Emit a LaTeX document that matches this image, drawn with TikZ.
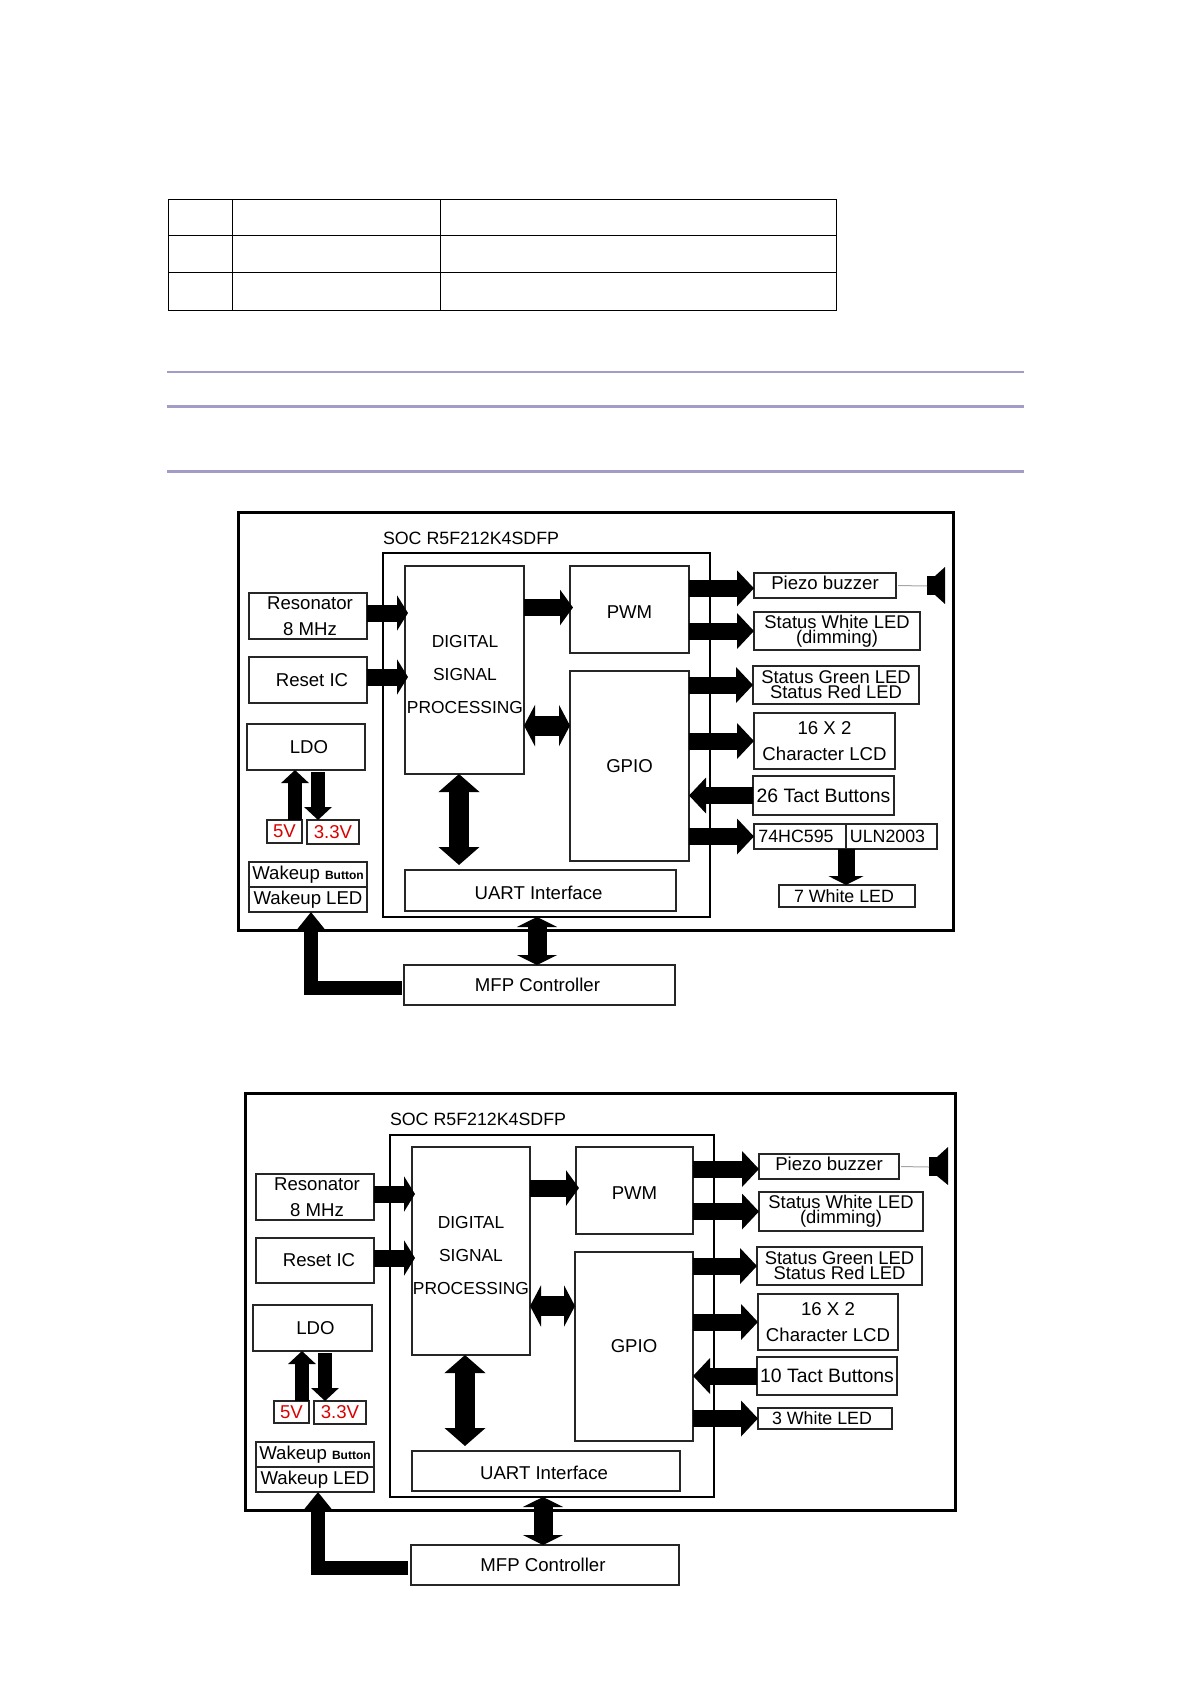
\documentclass[tikz,border=0pt]{standalone}
\usepackage{fontspec}
\setmainfont{Liberation Sans}
\usepackage{tikz}
\usetikzlibrary{arrows.meta, positioning}
\newcommand{\tightfont}{\fontsize{9.2}{7.6}\selectfont\lineskiplimit=-10pt\relax}
\newcommand{\nudged}[2]{\raisebox{#1}[6.7pt][2pt]{#2}}
\definecolor{rulecol}{HTML}{A29CC6}

\begin{document}
\begin{tikzpicture}[
      x=0.5pt, y=-0.5pt,
      font=\fontsize{9.3}{13}\selectfont,
      box/.style={draw=black!85, line width=.7pt, inner sep=0pt, outer sep=0pt, align=center},
      nbox/.style={box, font=\fontsize{8.9}{13}\selectfont},
      tight/.style={box, font=\tightfont},
      frame/.style={draw=black, inner sep=0pt, outer sep=0pt},
      lbl/.style={inner sep=0pt, outer sep=0pt, align=center},
      volt/.style={box, text=red!85!black},
      barr/.style={line width=8.5pt, -{Triangle[length=8.5pt, width=17.5pt]}},
      sarr/.style={line width=8.5pt, -{Triangle[length=5.5pt, width=17.5pt]}},
      parr/.style={line width=8.5pt, -{Triangle[length=6.5pt, width=17.5pt]}},
      larr/.style={line width=8.5pt, -{Triangle[length=4.5pt, width=17.5pt]}},
      harr/.style={line width=10pt, {Triangle[length=5.5pt, width=20.5pt]}-{Triangle[length=5.5pt, width=20.5pt]}},
      varr/.style={line width=10.3pt, {Triangle[length=9pt, width=20pt]}-{Triangle[length=9pt, width=20pt]}},
      marr/.style={line width=9.5pt, {Triangle[length=5pt, width=20pt]}-{Triangle[length=5pt, width=20pt]}},
      pwr/.style={line width=7pt, -{Triangle[length=6.5pt, width=13.5pt]}},
      elb/.style={line width=7.3pt, -{Triangle[length=8.5pt, width=13pt]}},
      wire/.style={draw=black!35, line width=.5pt},
    ]
    \useasboundingbox (0,0) rectangle (1191,1684);

    \draw[line width=.6pt] (168.3,199.3) rectangle (836.7,310.3);
    \foreach \yy in {235.3,272.3} \draw[line width=.6pt] (168.3,\yy) -- (836.7,\yy);
    \foreach \xx in {232.3,440.3} \draw[line width=.6pt] (\xx,199.3) -- (\xx,310.3);
    \draw[rulecol, line width=1pt] (167,372) -- (1024,372);
    \draw[rulecol, line width=1.35pt] (167,406.3) -- (1024,406.3);
    \draw[rulecol, line width=1.35pt] (167,471.3) -- (1024,471.3);

    \node[frame, line width=1.5pt, minimum width=357.5pt, minimum height=209pt] (board) at (595.5,721) {};
    \node[frame, line width=1.1pt, minimum width=163.5pt, minimum height=182pt] (soc) at (546.5,735) {};
    \node[lbl, anchor=west, font=\fontsize{8.9}{13}\selectfont] (soctxt) at (383,538) {SOC R5F212K4SDFP};
    \node[box, minimum width=59.5pt, minimum height=104pt] (dsp) at (464.5,670) {};
    \node[lbl, font=\fontsize{8.7}{16.5}\selectfont] (dsptxt) at (465,675) {DIGITAL\\SIGNAL\\PROCESSING};
    \node[box, minimum width=59.5pt, minimum height=43.5pt] (pwm) at (629.5,609.5) {\nudged{-2pt}{PWM}};
    \node[box, minimum width=59.5pt, minimum height=95pt] (gpio) at (629.5,766) {GPIO};
    \node[box, minimum width=135.5pt, minimum height=20.5pt] (uart) at (540.5,890.5) {\nudged{-2pt}{UART Interface}\hspace*{2pt}};
    \node[box, minimum width=135.5pt, minimum height=20pt] (mfp) at (539.5,985) {\nudged{-1pt}{MFP Controller}\hspace*{2pt}};
    \node[box, minimum width=59pt, minimum height=23pt] (res) at (308,616) {\hspace*{2pt}Resonator\\\hspace*{2pt}8 MHz};
    \node[box, minimum width=59pt, minimum height=23pt] (rst) at (308,680) {\hspace*{4pt}Reset IC};
    \node[box, minimum width=59pt, minimum height=23pt] (ldo) at (306,747) {\hspace*{3pt}LDO};
    \node[volt, minimum width=17.5pt, minimum height=11.5pt] (vfive) at (284.5,831.5) {5V};
    \node[volt, minimum width=26pt, minimum height=12pt] (vthree) at (333,832) {3.3V};
    \node[box, minimum width=59pt, minimum height=12.5pt] (wbtn) at (308,874.5) {Wakeup {\fontsize{6}{7}\selectfont\bfseries Button}};
    \node[box, minimum width=59pt, minimum height=12.5pt] (wled) at (308,899.5) {Wakeup LED};
    \node[box, minimum width=71pt, minimum height=12.5pt] (piezo) at (825,585.5) {\nudged{.6pt}{Piezo buzzer}};
    \node[tight, minimum width=83pt, minimum height=19pt] (white) at (837,631) {Status White LED\\(dimming)};
    \node[tight, minimum width=83pt, minimum height=19pt] (green) at (836,685) {Status Green LED\\Status Red LED};
    \node[box, minimum width=70.5pt, minimum height=28pt] (lcd) at (824.5,741) {16 X 2\\Character LCD};
    \node[box, font=\fontsize{9.7}{13}\selectfont, minimum width=70.5pt, minimum height=19.5pt] (tact) at (823.5,795.5) {26 Tact Buttons};
    \node[nbox, minimum width=46pt, minimum height=12.5pt] (hc) at (800,836.5) {74HC595\hspace*{4pt}};
    \node[nbox, minimum width=45.5pt, minimum height=12.5pt] (uln) at (891.5,836.5) {ULN2003\hspace*{4pt}};
    \node[nbox, minimum width=68pt, minimum height=11pt] (wlt) at (847,896) {7 White LED\hspace*{3pt}};
    \coordinate (spk) at (927,586);
    \fill (spk) ++(0,-10) rectangle ++(9,19);
    \fill (spk) ++(8,-10) -- ++(10,-9) -- ++(0,37) -- ++(-10,-9) -- cycle;

    \draw[sarr, shorten >=-1.5pt] ([yshift=1.5pt]res.east) -- ([yshift=1.5pt]res.east -| dsp.west);
    \draw[sarr, shorten >=-1.5pt] ([yshift=1.5pt]rst.east) -- ([yshift=1.5pt]rst.east -| dsp.west);
    \draw[parr, shorten >=-1.5pt] ([yshift=1pt]dsp.east |- pwm.west) -- ([yshift=1pt]pwm.west);
    \draw[harr] ([yshift=20.2pt]gpio.west) -- ([yshift=20.2pt]gpio.west -| dsp.east);
    \draw[varr, shorten >=2.5pt] ([xshift=-2.75pt]dsp.south) -- ([xshift=-2.75pt]dsp.south |- uart.north);
    \draw[marr] ([xshift=-1.25pt]mfp.north) -- ([xshift=-1.25pt]mfp.north |- soc.south);
    \draw[pwr] ([xshift=5.25pt]vfive.north) -- ([xshift=5.25pt]vfive.north |- ldo.south);
    \draw[pwr, shorten <=1pt] ([xshift=-7.5pt]vthree.north |- ldo.south) -- ([xshift=-7.5pt]vthree.north);
    \draw[elb, shorten <=1pt] ([yshift=-1.5pt]mfp.west) -| ([xshift=1.5pt]wled.south);
    \draw[barr] ([yshift=-1.4pt]piezo.west -| pwm.east) -- ([yshift=-1.4pt]piezo.west);
    \draw[barr] (white.west -| pwm.east) -- (white.west);
    \draw[barr] (green.west -| gpio.east) -- (green.west);
    \draw[barr] (lcd.west -| gpio.east) -- (lcd.west);
    \draw[barr] (tact.west) -- (tact.west -| gpio.east);
    \draw[barr] (hc.west -| gpio.east) -- (hc.west);
    \draw[larr] (hc.south east) -- (hc.south east |- wlt.north);
    \draw[wire, shorten <=1pt] (piezo.east) -- (spk);

    \node[frame, line width=1.5pt, minimum width=355pt, minimum height=208.5pt] (boardb) at (600,1301.5) {};
    \node[frame, line width=1.1pt, minimum width=162pt, minimum height=181pt] (socb) at (552,1316) {};
    \node[lbl, anchor=west, font=\fontsize{8.9}{13}\selectfont] (soctxtb) at (390,1119) {SOC R5F212K4SDFP};
    \node[box, minimum width=59pt, minimum height=104pt] (dspb) at (471,1251) {};
    \node[lbl, font=\fontsize{8.7}{16.5}\selectfont] (dsptxtb) at (471,1255) {DIGITAL\\SIGNAL\\PROCESSING};
    \node[box, minimum width=58.5pt, minimum height=43.5pt] (pwmb) at (634.5,1190.5) {\nudged{-2pt}{PWM}};
    \node[box, minimum width=59pt, minimum height=94.5pt] (gpiob) at (634,1346.5) {GPIO};
    \node[box, minimum width=134pt, minimum height=20pt] (uartb) at (546,1471) {\nudged{-2pt}{UART Interface}\hspace*{2pt}};
    \node[box, minimum width=134pt, minimum height=20pt] (mfpb) at (545,1565) {\nudged{-1pt}{MFP Controller}\hspace*{2pt}};
    \node[box, minimum width=59pt, minimum height=23pt] (resb) at (315,1197) {\hspace*{2pt}Resonator\\\hspace*{2pt}8 MHz};
    \node[box, minimum width=59pt, minimum height=22.5pt] (rstb) at (315,1260.5) {\hspace*{4pt}Reset IC};
    \node[box, minimum width=59.5pt, minimum height=23pt] (ldob) at (312.5,1328) {\hspace*{3pt}LDO};
    \node[volt, minimum width=17.5pt, minimum height=11pt] (vfiveb) at (291.5,1412) {5V};
    \node[volt, minimum width=26pt, minimum height=11.5pt] (vthreeb) at (340,1412.5) {3.3V};
    \node[box, minimum width=59pt, minimum height=12.5pt] (wbtnb) at (315,1454.5) {Wakeup {\fontsize{6}{7}\selectfont\bfseries Button}};
    \node[box, minimum width=59pt, minimum height=12.5pt] (wledb) at (315,1479.5) {Wakeup LED};
    \node[box, minimum width=70pt, minimum height=12.5pt] (piezob) at (829,1166.5) {\nudged{.6pt}{Piezo buzzer}};
    \node[tight, minimum width=82pt, minimum height=19.5pt] (whiteb) at (841,1211.5) {Status White LED\\(dimming)};
    \node[tight, minimum width=82.5pt, minimum height=19pt] (greenb) at (839.5,1266) {Status Green LED\\Status Red LED};
    \node[box, minimum width=70pt, minimum height=28pt] (lcdb) at (828,1322) {16 X 2\\Character LCD};
    \node[box, font=\fontsize{9.7}{13}\selectfont, minimum width=70pt, minimum height=19pt] (tactb) at (827,1376) {10 Tact Buttons};
    \node[nbox, minimum width=67pt, minimum height=10.5pt] (wltb) at (825,1418.5) {3 White LED\hspace*{3pt}};
    \coordinate (spkb) at (929,1167);
    \fill (spkb) ++(0,-10) rectangle ++(9,19);
    \fill (spkb) ++(8,-10) -- ++(11,-10) -- ++(0,38) -- ++(-11,-9) -- cycle;

    \draw[sarr, shorten >=-1.5pt] ([yshift=1.5pt]resb.east) -- ([yshift=1.5pt]resb.east -| dspb.west);
    \draw[sarr, shorten >=-1.5pt] ([yshift=1.25pt]rstb.east) -- ([yshift=1.25pt]rstb.east -| dspb.west);
    \draw[parr, shorten >=-1.5pt] ([yshift=1.25pt]dspb.east |- pwmb.west) -- ([yshift=1.25pt]pwmb.west);
    \draw[harr] ([yshift=20.25pt]gpiob.west) -- ([yshift=20.25pt]gpiob.west -| dspb.east);
    \draw[varr, shorten >=2.5pt] ([xshift=-3pt]dspb.south) -- ([xshift=-3pt]dspb.south |- uartb.north);
    \draw[marr] ([xshift=-1pt]mfpb.north) -- ([xshift=-1pt]mfpb.north |- socb.south);
    \draw[pwr] ([xshift=5.25pt]vfiveb.north) -- ([xshift=5.25pt]vfiveb.north |- ldob.south);
    \draw[pwr, shorten <=1pt] ([xshift=-7.5pt]vthreeb.north |- ldob.south) -- ([xshift=-7.5pt]vthreeb.north);
    \draw[elb, shorten <=1.5pt] ([yshift=-1.5pt]mfpb.west) -| ([xshift=1.5pt]wledb.south);
    \draw[barr] ([yshift=-1.25pt]piezob.west -| pwmb.east) -- ([yshift=-1.25pt]piezob.west);
    \draw[barr] (whiteb.west -| pwmb.east) -- (whiteb.west);
    \draw[barr] (greenb.west -| gpiob.east) -- (greenb.west);
    \draw[barr] (lcdb.west -| gpiob.east) -- (lcdb.west);
    \draw[barr] (tactb.west) -- (tactb.west -| gpiob.east);
    \draw[barr] (wltb.west -| gpiob.east) -- (wltb.west);
    \draw[wire, shorten <=1pt] (piezob.east) -- (spkb);
  \end{tikzpicture}
\end{document}
